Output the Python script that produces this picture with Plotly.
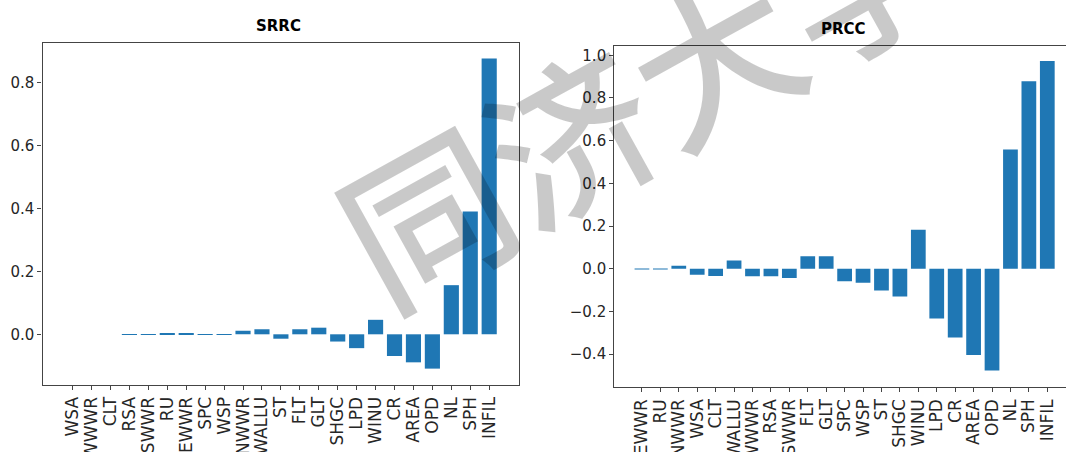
import plotly.graph_objects as go

# ---- data ----
srrc_labels = ["WSA", "WWWR", "CLT", "RSA", "SWWR", "RU", "EWWR", "SPC", "WSP", "NWWR",
               "WALLU", "ST", "FLT", "GLT", "SHGC", "LPD", "WINU", "CR", "AREA", "OPD",
               "NL", "SPH", "INFIL"]
srrc_values = [0.0, 0.0, 0.0, -0.001, -0.001, 0.002, 0.002, -0.001, -0.001, 0.011,
               0.016, -0.014, 0.016, 0.021, -0.023, -0.044, 0.046, -0.069, -0.089, -0.109,
               0.156, 0.390, 0.876]

prcc_labels = ["EWWR", "RU", "NWWR", "WSA", "CLT", "WALLU", "WWWR", "RSA", "SWWR", "FLT",
               "GLT", "SPC", "WSP", "ST", "SHGC", "WINU", "LPD", "CR", "AREA", "OPD",
               "NL", "SPH", "INFIL"]
prcc_values = [-0.003, -0.003, 0.014, -0.028, -0.034, 0.038, -0.036, -0.036, -0.044, 0.058,
               0.058, -0.059, -0.066, -0.102, -0.131, 0.183, -0.234, -0.323, -0.405, -0.477,
               0.559, 0.878, 0.973]

srrc_ticks = [0.0, 0.2, 0.4, 0.6, 0.8]
prcc_ticks = [-0.4, -0.2, 0.0, 0.2, 0.4, 0.6, 0.8, 1.0]

W, H = 1066, 452
BLUE = "#1f77b4"
LINE = "#444444"
FONT = "DejaVu Sans"

fig = go.Figure()
fig.add_trace(go.Bar(x=srrc_labels, y=srrc_values, marker_color=BLUE,
                     marker_line_width=0, xaxis="x", yaxis="y", showlegend=False))
fig.add_trace(go.Bar(x=prcc_labels, y=prcc_values, marker_color=BLUE,
                     marker_line_width=0, xaxis="x2", yaxis="y2", showlegend=False))

xtickfont = dict(family=FONT, size=17, color="#262626")
ytickfont = dict(family=FONT, size=15, color="#262626")

def xax(domain, rng, anchor, labels, mirror):
    return dict(domain=domain, range=rng, anchor=anchor, type="category",
                categoryorder="array", categoryarray=labels,
                tickmode="array", tickvals=labels, ticktext=labels,
                showline=True, linecolor=LINE, linewidth=1.2, mirror=mirror,
                ticks="outside", ticklen=4, tickwidth=1, tickcolor=LINE,
                tickangle=-90, tickfont=xtickfont, showgrid=False, zeroline=False,
                automargin=False, fixedrange=True)

def yax(domain, rng, anchor, vals, mirror):
    return dict(domain=domain, range=rng, anchor=anchor,
                showline=True, linecolor=LINE, linewidth=1.2, mirror=mirror,
                ticks="outside", ticklen=4, tickwidth=1, tickcolor=LINE,
                tickmode="array", tickvals=vals,
                ticktext=[("\u2212" if v < 0 else "") + f"{abs(v):.1f}" for v in vals],
                tickfont=ytickfont, showgrid=False, zeroline=False,
                automargin=False, fixedrange=True)

fig.update_layout(
    width=W, height=H, autosize=False,
    margin=dict(l=0, r=0, t=0, b=0, pad=0),
    paper_bgcolor="white", plot_bgcolor="white",
    bargap=0.2,
    xaxis=xax([42.5 / W, 519.3 / W], [-1.59, 23.59], "y", srrc_labels, True),
    yaxis=yax([1 - 385 / H, 1 - 43 / H], [-0.161, 0.925], "x", srrc_ticks, True),
    xaxis2=xax([614.3 / W, 1.0], [-1.5, 23.015], "y2", prcc_labels, True),
    yaxis2=yax([1 - 387.3 / H, 1 - 45.5 / H], [-0.556, 1.046], "x2", prcc_ticks, False),
)

# titles
fig.add_annotation(text="<b>SRRC</b>", xref="paper", yref="paper",
                   x=278 / W, y=1 - 26 / H, xanchor="center", yanchor="middle",
                   showarrow=False, font=dict(family=FONT, size=15, color="black"))
fig.add_annotation(text="<b>PRCC</b>", xref="paper", yref="paper",
                   x=843 / W, y=1 - 29 / H, xanchor="center", yanchor="middle",
                   showarrow=False, font=dict(family=FONT, size=15, color="black"))

# watermark
fig.add_annotation(text="同济大学", xref="paper", yref="paper",
                   x=640 / W, y=1 - 92 / H, xanchor="center", yanchor="middle",
                   showarrow=False, textangle=-29,
                   font=dict(family="Noto Sans CJK SC", size=165, weight=500,
                             color="rgba(0,0,0,0.21)"))

fig.write_html("out.html", config={"displayModeBar": False},
               post_script="document.body.style.margin='0px';document.body.style.padding='0px';")
